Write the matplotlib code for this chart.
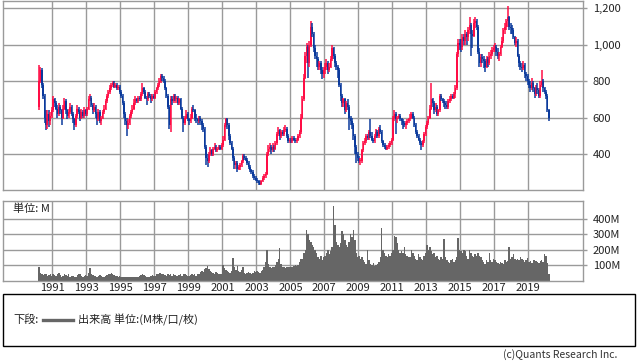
# Monthly candlestick chart with volume panel (1990-2020)
import numpy as np
import matplotlib
matplotlib.use('Agg')
import matplotlib.pyplot as plt
from matplotlib.patches import Rectangle
from matplotlib.lines import Line2D

plt.rcParams['font.family'] = ['Noto Sans CJK JP', 'DejaVu Sans']

START_YEAR, START_MONTH = 1990, 3
FIRST_OPEN = 660

close = [
    800, 860, 780, 720, 600, 560, 620, 580, 610, 640,                # 1990 Mar-Dec
    700, 680, 650, 620, 660, 640, 600, 650, 690, 640, 610, 630,      # 1991
    660, 620, 590, 560, 610, 650, 630, 600, 630, 610, 640, 620,      # 1992
    650, 700, 710, 670, 640, 660, 620, 590, 630, 580, 600, 630,      # 1993
    650, 690, 720, 740, 760, 780, 790, 770, 780, 760, 770, 740,      # 1994
    720, 680, 620, 580, 560, 570, 610, 630, 650, 680, 700, 690,      # 1995
    710, 700, 730, 760, 740, 710, 700, 730, 720, 700, 720, 710,      # 1996
    740, 760, 780, 800, 830, 820, 800, 760, 720, 660, 560, 700,      # 1997
    690, 720, 700, 710, 680, 700, 650, 600, 570, 600, 620, 590,      # 1998
    580, 600, 650, 640, 600, 590, 580, 600, 580, 560, 540, 440,      # 1999
    380, 360, 400, 420, 400, 430, 440, 420, 430, 440, 430, 450,      # 2000
    480, 560, 590, 560, 500, 460, 430, 380, 340, 350, 320, 330,      # 2001
    340, 360, 390, 380, 370, 350, 330, 310, 300, 280, 270, 260,      # 2002
    250, 240, 235, 250, 270, 280, 290, 400, 430, 440, 420, 440,      # 2003
    430, 460, 510, 530, 500, 520, 510, 530, 540, 500, 470, 480,      # 2004
    470, 490, 480, 470, 480, 500, 520, 600, 700, 820, 940, 990,      # 2005
    900, 1000, 1100, 1060, 980, 940, 920, 880, 900, 860, 840, 860,   # 2006
    880, 900, 860, 880, 920, 980, 940, 900, 880, 860, 780, 720,      # 2007
    680, 700, 640, 680, 660, 600, 580, 560, 500, 440, 400, 380,      # 2008
    360, 360, 420, 460, 470, 500, 490, 520, 500, 480, 470, 500,      # 2009
    520, 500, 540, 520, 470, 450, 440, 430, 440, 450, 460, 480,      # 2010
    600, 620, 590, 600, 610, 590, 580, 570, 560, 570, 580, 590,      # 2011
    600, 620, 600, 560, 520, 500, 480, 460, 450, 470, 510, 550,      # 2012
    570, 600, 650, 700, 680, 640, 660, 620, 640, 720, 700, 690,      # 2013
    680, 670, 660, 690, 700, 720, 710, 730, 760, 950, 1010, 1000,    # 2014
    990, 1040, 1020, 1060, 1040, 1080, 1110, 1060, 1050, 1120, 1130, 1100,  # 2015
    960, 900, 930, 920, 910, 880, 920, 900, 940, 950, 970, 980,      # 2016
    990, 960, 940, 950, 990, 1020, 1080, 1100, 1130, 1150, 1100, 1090,  # 2017
    1080, 1040, 1010, 1020, 940, 900, 880, 870, 890, 840, 830, 800,  # 2018
    780, 760, 790, 760, 730, 760, 750, 720, 780, 800, 760, 740,      # 2019
    720, 640, 600,                                                   # 2020 Jan-Mar
]

high = [
    890, 880, 870, 790, 730, 640, 640, 640, 630, 660,
    720, 710, 690, 670, 680, 670, 650, 670, 710, 700, 650, 650,
    680, 670, 630, 600, 620, 670, 660, 640, 650, 640, 660, 650,
    660, 720, 730, 720, 680, 680, 670, 630, 650, 640, 610, 640,
    670, 700, 730, 750, 780, 790, 800, 800, 790, 790, 780, 780,
    750, 730, 690, 630, 600, 590, 620, 640, 670, 700, 720, 710,
    720, 720, 740, 790, 770, 750, 720, 740, 740, 730, 730, 730,
    750, 770, 790, 820, 840, 840, 830, 810, 770, 730, 670, 720,
    720, 730, 730, 720, 720, 710, 710, 660, 610, 610, 640, 630,
    600, 620, 660, 670, 650, 620, 600, 610, 610, 590, 570, 550,
    450, 400, 410, 440, 430, 440, 460, 450, 440, 450, 450, 460,
    500, 570, 600, 600, 570, 510, 470, 440, 390, 360, 360, 340,
    350, 370, 400, 400, 390, 380, 360, 340, 320, 310, 290, 280,
    270, 260, 250, 260, 280, 290, 300, 410, 450, 460, 450, 460,
    450, 470, 520, 550, 540, 530, 530, 550, 560, 550, 510, 490,
    490, 500, 500, 490, 490, 510, 530, 620, 720, 840, 960, 1010,
    1000, 1020, 1130, 1120, 1070, 1000, 960, 930, 910, 910, 880, 880,
    900, 920, 910, 900, 940, 1000, 990, 950, 910, 890, 870, 790,
    730, 710, 710, 690, 700, 670, 610, 600, 570, 510, 450, 410,
    390, 380, 430, 470, 490, 510, 510, 530, 590, 520, 490, 510,
    540, 530, 550, 560, 530, 480, 460, 450, 450, 460, 470, 490,
    610, 640, 630, 610, 620, 620, 600, 590, 580, 580, 590, 600,
    620, 630, 630, 610, 570, 530, 510, 490, 470, 480, 520, 560,
    580, 610, 670, 790, 710, 690, 680, 670, 650, 730, 730, 710,
    700, 690, 690, 700, 720, 730, 730, 740, 780, 960, 1030, 1030,
    1030, 1060, 1060, 1080, 1070, 1100, 1150, 1120, 1080, 1140, 1150, 1140,
    1110, 980, 950, 950, 940, 920, 940, 930, 960, 970, 990, 1000,
    1010, 1000, 980, 960, 1000, 1040, 1090, 1120, 1140, 1210, 1160, 1120,
    1110, 1090, 1050, 1040, 1030, 950, 910, 900, 910, 900, 850, 840,
    810, 800, 820, 800, 770, 780, 790, 760, 800, 860, 810, 770,
    750, 730, 650,
]

low = [
    640, 790, 760, 700, 570, 530, 540, 550, 560, 600,
    630, 660, 640, 600, 610, 620, 560, 590, 640, 620, 590, 600,
    620, 610, 570, 530, 550, 600, 620, 580, 590, 600, 600, 610,
    610, 640, 690, 660, 620, 630, 600, 560, 580, 570, 560, 590,
    620, 640, 680, 710, 730, 750, 770, 760, 760, 750, 750, 730,
    710, 670, 600, 560, 500, 540, 560, 600, 620, 640, 670, 680,
    680, 690, 690, 720, 730, 700, 670, 690, 710, 680, 690, 700,
    700, 730, 750, 770, 790, 800, 790, 750, 710, 650, 540, 520,
    670, 680, 690, 680, 670, 670, 640, 590, 520, 560, 590, 580,
    560, 570, 590, 630, 580, 570, 560, 570, 560, 530, 520, 430,
    340, 330, 350, 390, 390, 390, 420, 410, 410, 420, 420, 420,
    440, 470, 550, 540, 480, 450, 420, 360, 320, 320, 300, 310,
    310, 330, 350, 370, 360, 340, 320, 300, 290, 270, 260, 250,
    240, 230, 228, 230, 245, 260, 270, 285, 390, 410, 400, 410,
    410, 420, 450, 500, 480, 490, 500, 500, 520, 490, 460, 460,
    460, 460, 470, 460, 460, 470, 490, 510, 590, 690, 810, 900,
    820, 880, 990, 1040, 960, 920, 880, 860, 860, 840, 810, 820,
    840, 860, 840, 850, 870, 910, 920, 880, 860, 820, 770, 690,
    660, 660, 620, 630, 640, 530, 560, 540, 480, 400, 350, 360,
    350, 340, 350, 410, 450, 460, 480, 480, 490, 470, 460, 460,
    490, 490, 490, 510, 460, 440, 430, 420, 420, 430, 440, 450,
    470, 580, 510, 570, 590, 580, 560, 540, 550, 540, 560, 570,
    580, 590, 590, 550, 510, 490, 470, 450, 425, 440, 460, 500,
    540, 560, 590, 640, 660, 620, 630, 610, 610, 630, 690, 680,
    660, 650, 650, 650, 680, 690, 700, 700, 710, 750, 930, 970,
    960, 970, 1000, 1000, 1000, 1020, 1060, 940, 980, 1040, 1090, 1080,
    950, 880, 880, 900, 870, 850, 870, 880, 890, 920, 940, 960,
    960, 940, 920, 910, 940, 980, 1010, 1060, 1080, 1100, 1080, 1060,
    1060, 1030, 1000, 990, 930, 880, 860, 850, 860, 820, 800, 780,
    760, 740, 750, 740, 710, 720, 730, 710, 710, 770, 740, 730,
    700, 630, 580,
]

volume = [
    85, 50, 40, 35, 45, 40, 30, 35, 40, 30,
    45, 35, 30, 40, 50, 35, 25, 30, 45, 35, 30, 40,
    25, 30, 30, 20, 25, 35, 40, 45, 30, 25, 30, 35,
    30, 50, 80, 40, 35, 30, 30, 25, 30, 35, 30, 25,
    25, 30, 35, 40, 45, 50, 40, 35, 30, 30, 25, 30,
    25, 20, 20, 20, 25, 20, 20, 25, 20, 25, 20, 20,
    25, 30, 35, 40, 35, 30, 25, 20, 25, 30, 35, 30,
    30, 40, 45, 50, 50, 45, 40, 35, 30, 40, 35, 40,
    30, 40, 35, 30, 30, 35, 40, 30, 45, 40, 35, 30,
    30, 35, 40, 35, 40, 30, 40, 45, 55, 60, 55, 72,
    80, 94, 75, 60, 55, 50, 45, 55, 50, 45, 40, 45,
    98, 80, 70, 60, 55, 50, 60, 148, 90, 70, 96, 60,
    55, 65, 90, 50, 45, 50, 55, 50, 45, 50, 60, 55,
    60, 55, 50, 60, 70, 90, 120, 195, 110, 90, 80, 85,
    90, 100, 120, 140, 212, 110, 90, 85, 80, 90, 85, 90,
    85, 90, 95, 100, 95, 100, 120, 137, 140, 180, 200, 324,
    298, 265, 250, 230, 220, 200, 180, 150, 140, 160, 130, 150,
    160, 180, 200, 170, 190, 215, 480, 362, 250, 230, 220, 240,
    320, 300, 260, 230, 220, 250, 300, 280, 324, 260, 180, 150,
    160, 140, 150, 130, 120, 110, 200, 130, 110, 100, 115, 95,
    100, 110, 120, 150, 337, 200, 180, 160, 150, 170, 160, 180,
    200, 290, 280, 240, 200, 180, 190, 180, 220, 170, 160, 150,
    150, 200, 180, 160, 140, 130, 170, 150, 140, 130, 160, 180,
    233, 200, 215, 190, 170, 180, 150, 160, 140, 130, 150, 140,
    270, 150, 130, 120, 115, 130, 140, 120, 130, 150, 277, 200,
    190, 180, 200, 190, 160, 140, 200, 180, 160, 150, 170, 160,
    175, 160, 150, 130, 120, 110, 130, 120, 175, 130, 120, 140,
    130, 120, 115, 110, 120, 115, 110, 130, 120, 125, 216, 140,
    150, 172, 140, 130, 140, 130, 150, 140, 130, 120, 135, 145,
    120, 125, 115, 130, 135, 125, 120, 115, 125, 130, 120, 170,
    160, 115, 45,
]

price_ticks = [400, 600, 800, 1000, 1200]
volume_ticks = [100, 200, 300, 400]
year_ticks = list(range(1991, 2020, 2))

UP = '#ff0d45'
DOWN = '#0b3a9c'
GRID = '#9a9a9a'
VOL = '#666666'

c = np.array(close, dtype=float)
o = np.concatenate([[FIRST_OPEN], c[:-1]])
h = np.maximum(np.array(high, dtype=float), np.maximum(o, c))
l = np.minimum(np.array(low, dtype=float), np.minimum(o, c))
v = np.array(volume, dtype=float)
x = START_YEAR + (START_MONTH - 1 + np.arange(len(c)) + 0.5) / 12.0
colors = np.where(c >= o, UP, DOWN)

W, H = 638, 362
fig = plt.figure(figsize=(W / 100, H / 100), dpi=100)
ax = fig.add_axes([3 / W, 1 - 190 / H, 580 / W, 189 / H])
axv = fig.add_axes([3 / W, 1 - 280.5 / H, 580 / W, 79.5 / H])

XLIM = (1988.09, 2022.22)

for a in (ax, axv):
    a.set_xlim(*XLIM)
    a.set_xticks(year_ticks)
    a.grid(True, color=GRID, linewidth=1)
    a.set_axisbelow(True)
    for s in a.spines.values():
        s.set_color(GRID)
        s.set_linewidth(1)
    a.yaxis.tick_right()
    a.tick_params(axis='y', direction='out', length=3, width=1, color=GRID,
                  labelsize=8, pad=4, labelcolor='#222222')
    a.tick_params(axis='x', length=0)

# price candles
ax.vlines(x, l, h, colors=colors, linewidth=1.1)
body = np.where(np.abs(c - o) < 5, 5, c - o)
ax.bar(x, body, bottom=o, width=0.088, color=colors, linewidth=0)
ax.set_ylim(203, 1240)
ax.set_yticks(price_ticks)
ax.set_yticklabels([f'{t:,}' for t in price_ticks])
ax.tick_params(axis='x', labelbottom=False)

# volume
axv.bar(x, v, width=1 / 12, color=VOL, linewidth=0)
axv.set_ylim(0, 515)
axv.set_yticks(volume_ticks)
axv.set_yticklabels([f'{t}M' for t in volume_ticks])
axv.set_xticklabels([str(y) for y in year_ticks])
axv.tick_params(axis='x', labelsize=8, pad=2, labelcolor='#222222')
axv.text(0.017, 0.9, '単位: M', transform=axv.transAxes, fontsize=8,
         va='center', ha='left', color='#222222')

# legend box
fig.patches.append(Rectangle((3 / W, 1 - 346 / H), 632 / W, 52 / H, fill=False,
                             edgecolor='black', linewidth=1, transform=fig.transFigure))
fig.text(13 / W, 1 - 320 / H, '下段:', fontsize=8, va='center', ha='left', color='#222222')
fig.lines.append(Line2D([43 / W, 73 / W], [1 - 320 / H, 1 - 320 / H], color=VOL,
                        linewidth=2.4, transform=fig.transFigure))
fig.text(78 / W, 1 - 320 / H, '出来高 単位:(M株/口/枚)', fontsize=8, va='center',
         ha='left', color='#222222')
fig.text(617 / W, 1 - 355 / H, '(c)Quants Research Inc.', fontsize=7.5, va='center',
         ha='right', color='#333333')

fig.savefig('out.png', dpi=100)
